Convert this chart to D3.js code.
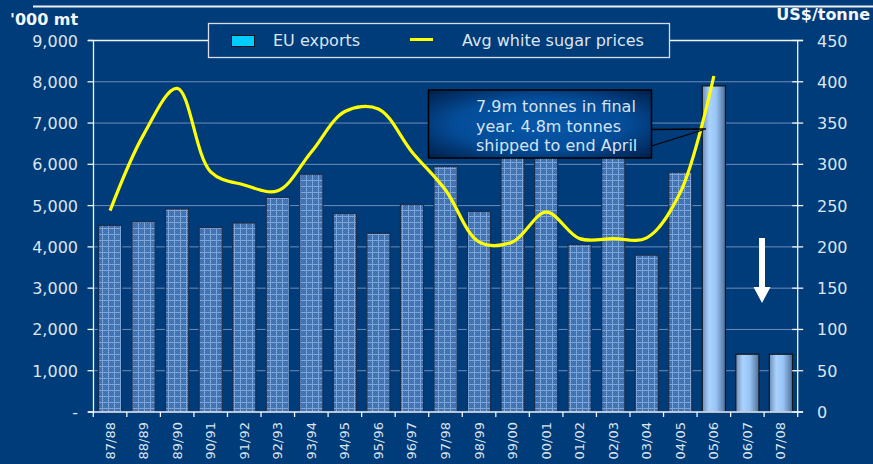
<!DOCTYPE html>
<html>
<head>
<meta charset="utf-8">
<script src="https://cdn.jsdelivr.net/npm/d3@7"></script>
<style>
  html, body { margin: 0; padding: 0; background: #003B7A; }
  svg { display: block; }
  text { font-family: "DejaVu Sans", Verdana, sans-serif; }
</style>
</head>
<body>
<svg id="chart" width="873" height="464"></svg>
<script>
// ---- Data ----
const categories = ["87/88","88/89","89/90","90/91","91/92","92/93","93/94","94/95","95/96","96/97",
  "97/98","98/99","99/00","00/01","01/02","02/03","03/04","04/05","05/06","06/07","07/08"];
const euExports = [4520, 4610, 4920, 4470, 4580, 5200, 5760, 4810, 4330, 5030,
  5950, 4860, 6400, 6300, 4060, 6500, 3800, 5810, 7900, 1400, 1400];
const sugarPrices = [244, 336, 392, 291, 275, 268, 315, 364, 367, 315,
  269, 206, 206, 242, 210, 210, 211, 266, 407];
const leftTicks = [0, 1000, 2000, 3000, 4000, 5000, 6000, 7000, 8000, 9000];
const leftTickLabels = ["-", "1,000", "2,000", "3,000", "4,000", "5,000", "6,000", "7,000", "8,000", "9,000"];
const rightTicks = [0, 50, 100, 150, 200, 250, 300, 350, 400, 450];
const highlightFrom = "05/06";
const annotationLines = ["7.9m tonnes in final", "year. 4.8m tonnes", "shipped to end April"];

// ---- Layout ----
const svg = d3.select("#chart");
const L = 93.5, R = 797.7, T = 40.5, B = 412;
const bg = "#003B7A";
const txt = "#DCE5F0";

svg.append("rect").attr("width", 873).attr("height", 464).attr("fill", bg);

const defs = svg.append("defs");
// textured pattern for the ordinary bars
const pat = defs.append("pattern").attr("id", "tex").attr("patternUnits", "userSpaceOnUse")
  .attr("width", 6).attr("height", 6);
pat.append("rect").attr("width", 6).attr("height", 6).attr("fill", "#4C7DBD");
for (let i = 0; i < 6; i++) for (let j = 0; j < 6; j++) {
  if ((i + j) % 2 === 0) pat.append("rect").attr("x", i).attr("y", j).attr("width", 1).attr("height", 1).attr("fill", "#3A69A8");
}
pat.append("rect").attr("x", 0).attr("y", 0).attr("width", 6).attr("height", 1).attr("fill", "#7DA6DA");
pat.append("rect").attr("x", 0).attr("y", 0).attr("width", 1).attr("height", 6).attr("fill", "#7DA6DA");

const g1 = defs.append("linearGradient").attr("id", "cyl").attr("x1", 0).attr("x2", 1).attr("y1", 0).attr("y2", 0);
[[0, "#6D8DB5"], [0.3, "#A9D2FF"], [0.6, "#98C4F5"], [1, "#4E6F99"]].forEach(([o, c]) =>
  g1.append("stop").attr("offset", o).attr("stop-color", c));

const g2 = defs.append("radialGradient").attr("id", "boxg").attr("cx", "50%").attr("cy", "50%").attr("r", "70%");
[[0, "#0658AA"], [0.55, "#044C98"], [1, "#001F4A"]].forEach(([o, c]) =>
  g2.append("stop").attr("offset", o).attr("stop-color", c));

// ---- Scales ----
const x = d3.scaleBand().domain(categories).range([93.3, R]).paddingInner(0.31).paddingOuter(0.155);
const yL = d3.scaleLinear().domain([0, 9000]).range([B, T]);
const yR = d3.scaleLinear().domain([0, 450]).range([B, T]);
const step = x.step();
const x0 = x.range()[0];

// gridlines
svg.append("g").selectAll("line").data(leftTicks.filter(v => v > 0 && v < 9000)).join("line")
  .attr("x1", L).attr("x2", R).attr("y1", d => yL(d)).attr("y2", d => yL(d))
  .attr("stroke", "#6E8DB8").attr("stroke-width", 1);

// bars
svg.append("g").selectAll("rect").data(categories).join("rect")
  .attr("x", d => x(d)).attr("width", x.bandwidth())
  .attr("y", (d, i) => yL(euExports[i])).attr("height", (d, i) => B - yL(euExports[i]))
  .attr("fill", (d, i) => i >= categories.indexOf(highlightFrom) ? "url(#cyl)" : "url(#tex)")
  .attr("stroke", (d, i) => i >= categories.indexOf(highlightFrom) ? "#101820" : "#1C2E4C")
  .attr("stroke-width", 1.2);

// axes lines
const white = "#F2F4F8";
svg.append("line").attr("x1", 88).attr("x2", 803).attr("y1", T).attr("y2", T).attr("stroke", white).attr("stroke-width", 1.3);
svg.append("line").attr("x1", L).attr("x2", L).attr("y1", T).attr("y2", B).attr("stroke", white).attr("stroke-width", 1.3);
svg.append("line").attr("x1", R).attr("x2", R).attr("y1", T).attr("y2", B).attr("stroke", white).attr("stroke-width", 1.3);
svg.append("line").attr("x1", 88).attr("x2", 803).attr("y1", B).attr("y2", B).attr("stroke", white).attr("stroke-width", 1.3);

// left ticks + labels
const lg = svg.append("g");
lg.selectAll("line").data(leftTicks).join("line")
  .attr("x1", 87.5).attr("x2", L).attr("y1", d => yL(d)).attr("y2", d => yL(d))
  .attr("stroke", white).attr("stroke-width", 1.3);
lg.selectAll("text").data(leftTicks).join("text")
  .attr("x", 78).attr("y", d => yL(d) + 6).attr("text-anchor", "end")
  .attr("font-size", 16).attr("fill", txt)
  .text((d, i) => leftTickLabels[i]);

// right ticks + labels
const rg = svg.append("g");
rg.selectAll("line").data(rightTicks).join("line")
  .attr("x1", R - 5.5).attr("x2", R + 5.5).attr("y1", d => yR(d)).attr("y2", d => yR(d))
  .attr("stroke", white).attr("stroke-width", 1.3);
rg.selectAll("text").data(rightTicks).join("text")
  .attr("x", 817).attr("y", d => yR(d) + 6).attr("text-anchor", "start")
  .attr("font-size", 16).attr("fill", txt)
  .text(d => d);

// bottom ticks + labels
svg.append("g").selectAll("line").data(d3.range(categories.length + 1)).join("line")
  .attr("x1", i => x0 + i * step).attr("x2", i => x0 + i * step)
  .attr("y1", B).attr("y2", B + 5).attr("stroke", white).attr("stroke-width", 1.3);
svg.append("g").selectAll("text").data(categories).join("text")
  .attr("transform", d => `translate(${x(d) + x.bandwidth() / 2 + 4.5},422) rotate(-90)`)
  .attr("text-anchor", "end").attr("font-size", 13).attr("fill", txt)
  .text(d => d);

// price line
const line = d3.line()
  .x((d, i) => x(categories[i]) + x.bandwidth() / 2)
  .y(d => yR(d))
  .curve(d3.curveCatmullRom.alpha(0.5));
svg.append("path").datum(sugarPrices).attr("d", line)
  .attr("fill", "none").attr("stroke", "#FFFF00").attr("stroke-width", 3.2);

// axis titles
svg.append("line").attr("x1", 33).attr("x2", 873).attr("y1", 6.5).attr("y2", 6.5).attr("stroke", "#EEF1F6").attr("stroke-width", 2);
svg.append("text").attr("x", 10).attr("y", 25).attr("font-size", 16).attr("font-weight", "bold")
  .attr("fill", "#F4F6FA").text("'000 mt");
svg.append("text").attr("x", 870).attr("y", 20).attr("text-anchor", "end").attr("font-size", 16).attr("font-weight", "bold")
  .attr("fill", "#F4F6FA").text("US$/tonne");

// legend
const leg = svg.append("g");
leg.append("rect").attr("x", 208.5).attr("y", 23.5).attr("width", 461).attr("height", 34)
  .attr("fill", bg).attr("stroke", "#D8DEE8").attr("stroke-width", 1.3);
leg.append("rect").attr("x", 231.5).attr("y", 35.5).attr("width", 23).attr("height", 11)
  .attr("fill", "#00CCFF").attr("stroke", "#0A1520").attr("stroke-width", 1);
leg.append("text").attr("x", 273).attr("y", 46).attr("font-size", 16).attr("fill", txt).text("EU exports");
leg.append("line").attr("x1", 410).attr("x2", 433).attr("y1", 39.5).attr("y2", 39.5)
  .attr("stroke", "#FFFF00").attr("stroke-width", 3);
leg.append("text").attr("x", 462).attr("y", 46).attr("font-size", 16).attr("fill", txt).text("Avg white sugar prices");

// annotation callout
const ann = svg.append("g");
ann.append("rect").attr("x", 428.5).attr("y", 90).attr("width", 223).attr("height", 68)
  .attr("fill", "url(#boxg)").attr("stroke", "#000").attr("stroke-width", 1.5);
ann.append("polyline").attr("points", "651.5,129.5 706,129 651.5,146")
  .attr("fill", "none").attr("stroke", "#000").attr("stroke-width", 1.3);
ann.selectAll("text").data(annotationLines).join("text")
  .attr("x", 476).attr("y", (d, i) => 112 + i * 19.5)
  .attr("font-size", 16).attr("fill", "#D6E2F0").text(d => d);

// down arrow
svg.append("polygon")
  .attr("points", "759,238 765,238 765,287 770.5,287 762,303 753.5,287 759,287")
  .attr("fill", "#FFFFFF");
</script>
</body>
</html>
